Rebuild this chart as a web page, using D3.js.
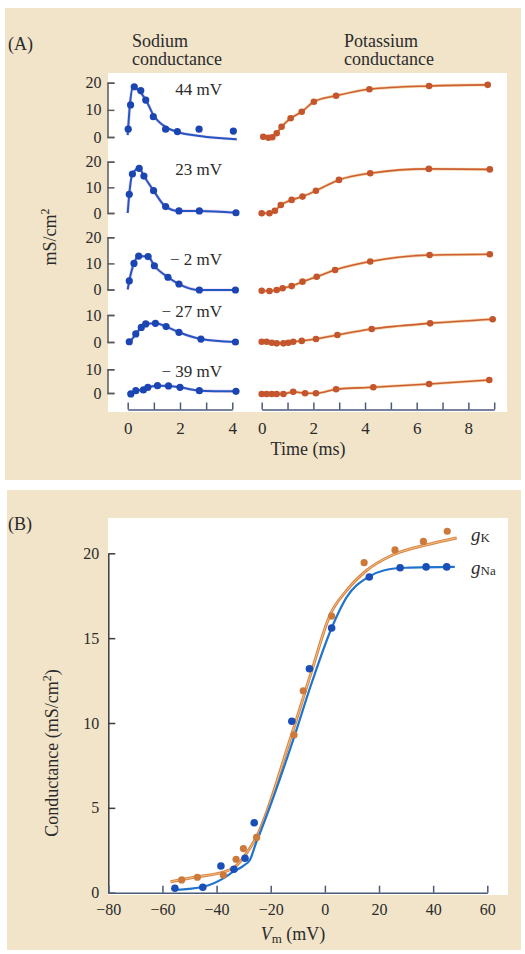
<!DOCTYPE html>
<html>
<head>
<meta charset="utf-8">
<script src="https://cdn.jsdelivr.net/npm/d3@7"></script>
<style>
  body { margin: 0; background: #fff; }
  text { font-family: "Liberation Serif", "DejaVu Serif", serif; fill: #2b2b2b; }
</style>
</head>
<body>
<svg id="chart" width="525" height="954"></svg>
<script>
// ---- panel A data: one entry per voltage step ----
const traceLabels = ["44 mV", "23 mV", "\u2212 2 mV", "\u2212 27 mV", "\u2212 39 mV"];
const traceTickValues = [[0, 10, 20], [0, 10, 20], [0, 10, 20], [0, 10], [0, 10]];

// sodium conductance (time in ms, mS/cm2)
const naTimes = [
  [0.02, 0.11, 0.25, 0.5, 0.69, 0.98, 1.45, 1.9, 2.73, 4.04],
  [0.06, 0.18, 0.44, 0.62, 0.99, 1.45, 1.96, 2.74, 4.14],
  [0.06, 0.24, 0.42, 0.78, 1.02, 1.54, 1.96, 2.74, 4.12],
  [0.06, 0.31, 0.52, 0.69, 1.06, 1.47, 1.96, 2.8, 4.12],
  [0.12, 0.31, 0.6, 0.77, 1.14, 1.56, 2.0, 2.74, 4.14]
];
const naValues = [
  [2.9, 11.8, 18.5, 17.1, 13.6, 7.5, 2.9, 2.0, 2.9, 2.2],
  [7.3, 15.2, 17.4, 14.4, 8.7, 2.5, 0.8, 0.8, 0.1],
  [3.3, 10, 12.8, 12.6, 9.1, 4.7, 2.1, -0.2, -0.2],
  [0.1, 3, 5.4, 6.7, 6.9, 5.7, 3.6, 1.1, 0],
  [-0.4, 1, 1.3, 2.4, 3.1, 3, 2.4, 1, 0.7]
];
// the 44 mV sodium curve is a fit, it does not go through the late points
const naFit44Time = [0, 0.09, 0.21, 0.4, 0.73, 0.98, 1.43, 1.87, 2.76, 4.17];
const naFit44Value = [0.7, 12.4, 18.6, 17.3, 13, 8.1, 3.8, 1.95, 0.37, -0.85];

// potassium conductance
const kTimes = [
  [0.06, 0.26, 0.41, 0.58, 0.77, 1.12, 1.55, 2.02, 2.88, 4.17, 6.48, 8.75],
  [0.0, 0.3, 0.51, 0.74, 1.16, 1.58, 2.1, 2.99, 4.2, 6.47, 8.83],
  [0.0, 0.3, 0.58, 0.81, 1.16, 1.58, 2.13, 2.84, 4.2, 6.5, 8.83],
  [0.0, 0.19, 0.39, 0.58, 0.84, 1.03, 1.22, 1.55, 2.1, 2.93, 4.26, 6.52, 8.94],
  [0.0, 0.19, 0.39, 0.58, 0.84, 1.22, 1.68, 2.1, 2.88, 4.32, 6.48, 8.81]
];
const kValues = [
  [0.1, -0.3, -0.1, 1.4, 3.8, 6.9, 9.3, 13, 15.2, 17.6, 18.8, 19.2],
  [-0.1, -0.1, 0.9, 3.1, 5.1, 6.4, 8.7, 12.9, 15.5, 17.2, 17.0],
  [-0.5, -0.6, -0.2, 0.5, 1.3, 3, 4.9, 7.5, 10.7, 13.2, 13.5],
  [0.1, 0.1, -0.3, -0.5, -0.5, -0.3, 0.1, 0.4, 1.1, 2.6, 4.8, 6.9, 8.4],
  [-0.4, -0.4, -0.4, -0.4, -0.4, 0.5, -0.1, -0.1, 1.6, 2.4, 3.8, 5.5]
];

// ---- panel B data ----
const gNaVm = [-55.4, -45.1, -38.4, -33.6, -29.5, -26.1, -12.2, -5.7, 2.5, 16.4, 27.8, 37.4, 45];
const gNaValue = [0.26, 0.32, 1.57, 1.38, 2.03, 4.12, 10.1, 13.2, 15.6, 18.6, 19.15, 19.2, 19.2];
const gKVm = [-52.9, -47.1, -37.5, -32.8, -30.1, -25.2, -11.4, -8, 2.5, 14.5, 25.9, 36.4, 45.2];
const gKValue = [0.75, 0.91, 1.04, 1.97, 2.6, 3.26, 9.3, 11.9, 16.3, 19.45, 20.2, 20.7, 21.3];
const gNaFitVm = [-55.4, -44.9, -38, -33.8, -30, -27.7, -25.5, -24, -11.7, -5, 2.5, 8, 16, 22, 30, 48];
const gNaFitValue = [0.16, 0.35, 0.8, 1.24, 1.6, 1.93, 2.9, 3.5, 9.0, 12.3, 15.6, 17.4, 18.6, 19.0, 19.15, 19.2];
const gKFitVm = [-57, -47.3, -36.9, -33, -29.5, -25.2, -12.9, -5, 2, 8, 15.5, 25, 37.6, 48.7];
const gKFitValue = [0.65, 0.94, 1.24, 1.55, 2.2, 3.3, 9.0, 13, 16.4, 17.8, 19.0, 19.9, 20.5, 20.9];
const vmTicks = [-80, -60, -40, -20, 0, 20, 40, 60];
const gTicks = [0, 5, 10, 15, 20];

// ---- colours ----
const beige = "#f1e4c9";
const naDot = "#1b45b2", naLine = "#2358c4";
const kDot = "#c4552c", kLine = "#cc5f36";
const bNaDot = "#1a4fb8", bNaLine = "#1f74cc";
const bKDot = "#cc7a3c", bKLine = "#d8844a";
const axisCol = "#4a5a78";

const svg = d3.select("#chart");
const zip = (xs, ys) => xs.map((x, i) => [x, ys[i]]);

// two-line title as one text element
function title(x, y, lines) {
  const t = svg.append("text").attr("x", x).attr("y", y).attr("font-size", 18);
  lines.forEach((s, i) => t.append("tspan").attr("x", x).attr("dy", i ? 18.5 : 0).text(s));
}

// ================= panel A =================
svg.append("rect").attr("x", 5).attr("y", 8).attr("width", 516).attr("height", 472).attr("fill", beige);
svg.append("rect").attr("x", 108).attr("y", 73).attr("width", 399).attr("height", 339).attr("fill", "#fff");

svg.append("text").attr("x", 8).attr("y", 50).attr("font-size", 18).text("(A)");
title(132, 46.5, ["Sodium", "conductance"]);
title(344, 46.5, ["Potassium", "conductance"]);

const yLab = svg.append("text").attr("font-size", 18).attr("text-anchor", "middle")
  .attr("transform", "translate(56,237) rotate(-90)");
yLab.append("tspan").text("mS/cm");
yLab.append("tspan").attr("font-size", 12).attr("dy", -7).text("2");

const xNa = d3.scaleLinear().domain([0, 4]).range([127.7, 232.3]);
const xK = d3.scaleLinear().domain([0, 9]).range([261.7, 494.2]);

// row baselines and pixels per mS/cm2
const rowZero = [137, 213, 289.5, 342, 393];
const rowPx = [2.715, 2.565, 2.61, 2.7, 2.37];

traceLabels.forEach((lab, i) => {
  const top = d3.max(traceTickValues[i]);
  const y = d3.scaleLinear().domain([0, top]).range([rowZero[i], rowZero[i] - top * rowPx[i]]);

  const ax = svg.append("g").attr("transform", "translate(107.5,0)")
    .call(d3.axisLeft(y).tickValues(traceTickValues[i]).tickSize(-7).tickPadding(6));
  ax.selectAll("path,line").attr("stroke", "#5a5a5a").attr("stroke-width", 1.5);
  ax.selectAll("text").attr("font-size", 16).attr("font-family", "Liberation Serif, serif").attr("fill", "#2b2b2b");

  svg.append("text").attr("x", 222).attr("y", [95, 175, 265, 317, 377][i])
    .attr("text-anchor", "end").attr("font-size", 17).text(lab);

  const lineNa = d3.line().x(d => xNa(d[0])).y(d => y(d[1])).curve(d3.curveMonotoneX);
  const lineK = d3.line().x(d => xK(d[0])).y(d => y(d[1])).curve(d3.curveMonotoneX);

  const naPts = zip(naTimes[i], naValues[i]);
  const naCurve = i === 0 ? zip(naFit44Time, naFit44Value) : [[0, 0]].concat(naPts);
  svg.append("path").datum(naCurve).attr("d", lineNa).attr("fill", "none")
    .attr("stroke", "#d6a0d8").attr("stroke-width", 3.2).attr("opacity", 0.5);
  svg.append("path").datum(naCurve).attr("d", lineNa).attr("fill", "none")
    .attr("stroke", naLine).attr("stroke-width", 2);
  svg.append("g").selectAll("circle").data(naPts).join("circle")
    .attr("cx", d => xNa(d[0])).attr("cy", d => y(d[1])).attr("r", 3.6).attr("fill", naDot);

  const kPts = zip(kTimes[i], kValues[i]);
  svg.append("path").datum(kPts).attr("d", lineK).attr("fill", "none")
    .attr("stroke", "#efc27a").attr("stroke-width", 3).attr("opacity", 0.7);
  svg.append("path").datum(kPts).attr("d", lineK).attr("fill", "none")
    .attr("stroke", kLine).attr("stroke-width", 1.6);
  svg.append("g").selectAll("circle").data(kPts).join("circle")
    .attr("cx", d => xK(d[0])).attr("cy", d => y(d[1])).attr("r", 3.3).attr("fill", kDot);
});

function timeAxis(scale, ticks) {
  const g = svg.append("g").attr("transform", "translate(0,409.5)")
    .call(d3.axisBottom(scale).tickValues(ticks).tickSizeInner(-7).tickSizeOuter(0).tickPadding(12)
      .tickFormat(d => d % 2 === 0 ? d : ""));
  g.selectAll("path,line").attr("stroke", axisCol).attr("stroke-width", 1.5);
  g.selectAll("text").attr("font-size", 17).attr("font-family", "Liberation Serif, serif").attr("fill", "#2b2b2b");
}
timeAxis(xNa, d3.range(0, 5));
timeAxis(xK, d3.range(0, 10));

svg.append("text").attr("x", 308).attr("y", 455).attr("text-anchor", "middle")
  .attr("font-size", 18).text("Time (ms)");

// ================= panel B =================
svg.append("rect").attr("x", 7).attr("y", 490).attr("width", 514).attr("height", 460).attr("fill", beige);
svg.append("rect").attr("x", 108).attr("y", 518).attr("width", 400).attr("height", 377).attr("fill", "#fff");
svg.append("text").attr("x", 8).attr("y", 530).attr("font-size", 18).text("(B)");

const xV = d3.scaleLinear().domain([-80, 60]).range([108.3, 487.3]);
const yG = d3.scaleLinear().domain([0, 20]).range([892.7, 553.3]);

const ga = svg.append("g").attr("transform", "translate(108.3,0)")
  .call(d3.axisLeft(yG).tickValues(gTicks).tickSizeInner(-7).tickSizeOuter(0).tickPadding(9));
ga.selectAll("path,line").attr("stroke", "#3c3c3c").attr("stroke-width", 1.5);
ga.selectAll("text").attr("font-size", 16).attr("font-family", "Liberation Serif, serif").attr("fill", "#2b2b2b");

const xa = svg.append("g").attr("transform", "translate(0,892.7)")
  .call(d3.axisBottom(xV).tickValues(vmTicks).tickSizeInner(-7).tickSizeOuter(0).tickPadding(11));
xa.selectAll("path,line").attr("stroke", axisCol).attr("stroke-width", 1.5);
xa.selectAll("text").attr("font-size", 16).attr("font-family", "Liberation Serif, serif").attr("fill", "#2b2b2b");

const lineB = d3.line().x(d => xV(d[0])).y(d => yG(d[1])).curve(d3.curveMonotoneX);

svg.append("path").datum(zip(gKFitVm, gKFitValue)).attr("d", lineB).attr("fill", "none")
  .attr("stroke", bKLine).attr("stroke-width", 3);
svg.append("path").datum(zip(gKFitVm, gKFitValue)).attr("d", lineB).attr("fill", "none")
  .attr("stroke", "#f2c27c").attr("stroke-width", 1);
svg.append("path").datum(zip(gNaFitVm, gNaFitValue)).attr("d", lineB).attr("fill", "none")
  .attr("stroke", bNaLine).attr("stroke-width", 2.2);

svg.append("g").selectAll("circle").data(zip(gKVm, gKValue)).join("circle")
  .attr("cx", d => xV(d[0])).attr("cy", d => yG(d[1])).attr("r", 3.6).attr("fill", bKDot);
svg.append("g").selectAll("circle").data(zip(gNaVm, gNaValue)).join("circle")
  .attr("cx", d => xV(d[0])).attr("cy", d => yG(d[1])).attr("r", 3.8).attr("fill", bNaDot);

const lk = svg.append("text").attr("x", 471).attr("y", 541).attr("font-size", 19);
lk.append("tspan").attr("font-style", "italic").text("g");
lk.append("tspan").attr("font-size", 13).attr("dy", 1).text("K");
const ln = svg.append("text").attr("x", 471).attr("y", 574).attr("font-size", 19);
ln.append("tspan").attr("font-style", "italic").text("g");
ln.append("tspan").attr("font-size", 13).attr("dy", 1).text("Na");

const gLab = svg.append("text").attr("font-size", 18).attr("text-anchor", "middle")
  .attr("transform", "translate(58,753) rotate(-90)");
gLab.append("tspan").text("Conductance (mS/cm");
gLab.append("tspan").attr("font-size", 12).attr("dy", -7).text("2");
gLab.append("tspan").attr("dy", 7).text(")");

const vLab = svg.append("text").attr("x", 293).attr("y", 940).attr("text-anchor", "middle").attr("font-size", 18);
vLab.append("tspan").attr("font-style", "italic").text("V");
vLab.append("tspan").attr("font-size", 13).attr("dy", 3).text("m");
vLab.append("tspan").attr("dy", -3).text(" (mV)");
</script>
</body>
</html>
